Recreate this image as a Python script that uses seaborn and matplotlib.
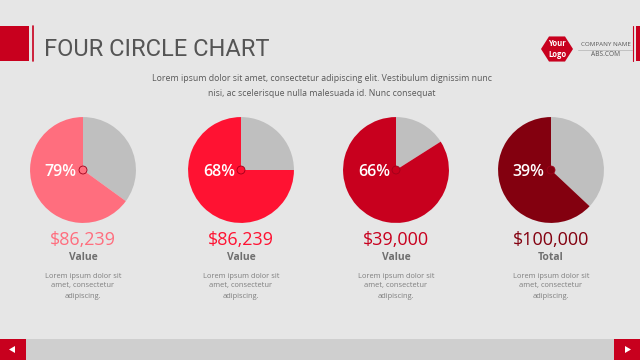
import numpy as np
import matplotlib
matplotlib.use("Agg")
import matplotlib.pyplot as plt
import matplotlib.patches as mpatches
import seaborn as sns

# values
labels_pct = ["79%", "68%", "66%", "39%"]
colored_share = [0.65, 0.75, 0.84, 0.63]      # share of each disc drawn in colour
amounts = ["$86,239", "$86,239", "$39,000", "$100,000"]
captions = ["Value", "Value", "Value", "Total"]
blurb = "Lorem ipsum dolor sit\namet, consectetur\nadipiscing."
pie_colors = ["#FF6E7E", "#FF1232", "#C8001E", "#83000F"]
centers_x = [83, 241, 396, 551]

title = "FOUR CIRCLE CHART"
subtitle = ("Lorem ipsum dolor sit amet, consectetur adipiscing elit. Vestibulum dignissim nunc\n"
            "nisi, ac scelerisque nulla malesuada id. Nunc consequat")

BG = "#E6E6E6"
RED = "#C8001E"
GREY_PIE = "#BFBFBF"
W, H = 640, 360
CY, R = 170, 54


def main():
    sns.set_theme(style="white")
    plt.rcParams["font.family"] = ["Open Sans", "DejaVu Sans"]

    fig = plt.figure(figsize=(6.4, 3.6), dpi=100, facecolor=BG)
    bg = fig.add_axes([0, 0, 1, 1])
    bg.set_xlim(0, W)
    bg.set_ylim(H, 0)
    bg.axis("off")
    bg.set_facecolor(BG)

    # header decorations
    bg.add_patch(mpatches.Rectangle((0, 26), 29, 35, color=RED, lw=0))
    bg.plot([33, 33], [26, 61], color=RED, lw=1.2)
    bg.text(44, 50, title, fontsize=17, color="#555555", va="center", ha="left",
            family=["Roboto", "DejaVu Sans"])
    bg.text(322, 86, subtitle, fontsize=6.3, color="#595959", ha="center", va="center",
            linespacing=1.85)

    # logo
    ang = np.linspace(0, 2 * np.pi, 7)[:-1]
    hexagon = np.c_[557 + 16 * np.cos(ang), 49 + 14.5 * np.sin(ang)]
    bg.add_patch(mpatches.Polygon(hexagon, closed=True, color=RED, lw=0))
    bg.text(557, 49, "Your\nLogo", fontsize=5.5, color="white", weight="bold",
            ha="center", va="center", linespacing=1.2)
    bg.text(606, 44, "COMPANY NAME", fontsize=4.5, color="#595959", ha="center", va="center")
    bg.plot([578, 632], [49.5, 49.5], color="#BBBBBB", lw=0.6)
    bg.text(606, 55, "ABS.COM", fontsize=4.8, color="#595959", ha="center", va="center")
    bg.plot([633, 633], [26, 61], color=RED, lw=0.8)
    bg.add_patch(mpatches.Rectangle((635.5, 26), 5, 35, color=RED, lw=0))

    # footer
    bg.add_patch(mpatches.Rectangle((0, 339), W, 21, color="#CFCFCF", lw=0))
    bg.add_patch(mpatches.Rectangle((0, 339), 26, 21, color=RED, lw=0))
    bg.add_patch(mpatches.Rectangle((614, 339), 26, 21, color=RED, lw=0))
    bg.add_patch(mpatches.Polygon([[9, 349.5], [15, 346], [15, 353]], color="white", lw=0))
    bg.add_patch(mpatches.Polygon([[631, 349.5], [625, 346], [625, 353]], color="white", lw=0))

    # circles
    for i, cx in enumerate(centers_x):
        ax = fig.add_axes([(cx - R) / W, (H - CY - R) / H, 2 * R / W, 2 * R / H])
        share = colored_share[i]
        ax.pie([1 - share, share], colors=[GREY_PIE, pie_colors[i]], startangle=90,
               counterclock=False, radius=1, wedgeprops=dict(linewidth=0))
        ax.add_patch(mpatches.Circle((0, 0), 0.075, facecolor=pie_colors[i],
                                     edgecolor="#A0001A", lw=0.6, zorder=5))
        ax.text(-0.42, -0.03, labels_pct[i], fontsize=11.5, color="white", weight="semibold",
                ha="center", va="center", zorder=10)
        ax.set_xlim(-1.02, 1.02)
        ax.set_ylim(-1.02, 1.02)
        ax.axis("off")

        bg.text(cx, 240, amounts[i], fontsize=13, color=pie_colors[i],
                ha="center", va="center")
        bg.text(cx, 257, captions[i], fontsize=7.5, color="#6F6F6F", weight="bold",
                ha="center", va="center")
        bg.text(cx, 286, blurb, fontsize=5.4, color="#7F7F7F", ha="center", va="center",
                linespacing=1.6)

    fig.savefig("out.png", dpi=100, facecolor=BG)


if __name__ == "__main__":
    main()
